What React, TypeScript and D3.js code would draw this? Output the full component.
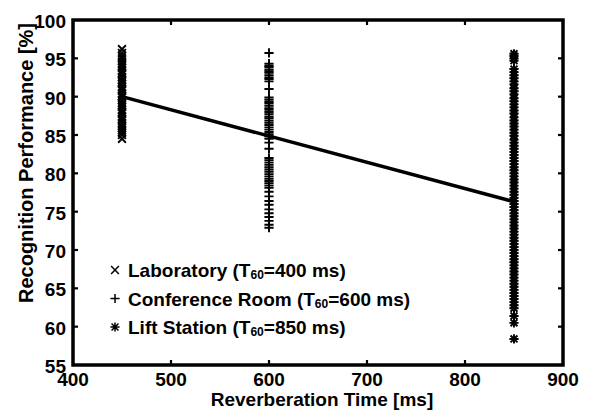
import React from "react";
import * as d3 from "d3";

// Reverberation time (ms) at which each room was measured
const labTime = 450;
const confTime = 600;
const liftTime = 850;

// Recognition performance (%) per test run
const labScores = [
  96.2, 95.7, 95.3, 95.0, 94.6, 94.3, 94.0, 93.8, 93.4, 93.1, 92.9, 92.5,
  92.2, 91.9, 91.7, 91.3, 91.0, 90.8, 90.4, 90.1, 89.9, 89.5, 89.2, 88.9,
  88.7, 88.3, 88.0, 87.8, 87.4, 87.1, 86.9, 86.5, 86.2, 85.9, 85.6, 85.3,
  85.0, 84.5,
];
const confScores = [
  95.7, 94.3, 94.0, 93.8, 93.5, 93.3, 93.1, 92.8, 92.5, 92.3, 92.0, 91.0,
  89.9, 89.6, 89.3, 89.1, 88.8, 88.5, 88.3, 88.0, 87.7, 87.4, 87.2, 86.9,
  86.6, 86.3, 86.0, 85.7, 85.4, 85.1, 84.8, 84.5, 84.0, 83.2, 82.0, 81.7,
  81.4, 81.1, 80.8, 80.5, 80.2, 79.9, 79.6, 79.3, 79.0, 78.7, 78.4, 78.1,
  77.6, 77.0, 76.4, 75.9, 75.3, 74.8, 74.3, 73.8, 73.3, 72.9,
];
const liftScores = [
  95.6, 95.3, 95.0, 94.7, 93.6, 93.2, 92.8, 92.4, 92.0, 91.6, 91.1, 90.7,
  90.3, 89.8, 89.4, 89.0, 88.6, 88.2, 87.8, 87.3, 86.9, 86.5, 86.1, 85.7,
  85.3, 84.9, 84.4, 84.0, 83.6, 83.2, 82.8, 82.4, 82.0, 81.6, 81.2, 80.8,
  80.4, 80.0, 79.6, 79.2, 78.8, 78.4, 78.0, 77.6, 77.2, 76.8, 76.4, 76.0,
  75.6, 75.2, 74.8, 74.4, 74.0, 73.6, 73.2, 72.8, 72.4, 72.0, 71.6, 71.2,
  70.8, 70.4, 70.0, 69.6, 69.2, 68.8, 68.4, 68.0, 67.6, 67.2, 66.8, 66.4,
  66.0, 65.6, 65.2, 64.8, 64.4, 64.0, 63.6, 63.2, 62.8, 62.4, 61.4, 60.5,
  58.4,
];

// Linear regression over all runs
const trendTimes = [450, 850];
const trendScores = [90.0, 76.3];

const xTicks = [400, 500, 600, 700, 800, 900];
const yTicks = [55, 60, 65, 70, 75, 80, 85, 90, 95, 100];

const legendLabels = [
  { marker: "x", name: "Laboratory", t: "400" },
  { marker: "+", name: "Conference Room", t: "600" },
  { marker: "*", name: "Lift Station", t: "850" },
];

const W = 605;
const H = 411;
const left = 73;
const right = 563;
const top = 20;
const bottom = 365;

const font = "'Liberation Sans', Arial, Helvetica, sans-serif";

function Marker({ kind, cx, cy, r = 4.6, sw = 1.9 }: { kind: string; cx: number; cy: number; r?: number; sw?: number }) {
  const d = kind === "x" ? r * 0.85 : r * 0.75;
  const cross = `M${cx - d},${cy - d}L${cx + d},${cy + d}M${cx - d},${cy + d}L${cx + d},${cy - d}`;
  const plus = `M${cx - r},${cy}L${cx + r},${cy}M${cx},${cy - r}L${cx},${cy + r}`;
  const path = kind === "x" ? cross : kind === "+" ? plus : cross + plus;
  return <path d={path} stroke="#000" strokeWidth={sw} fill="none" />;
}

export default function App() {
  const x = d3.scaleLinear().domain([400, 900]).range([left, right]);
  const y = d3.scaleLinear().domain([55, 100]).range([bottom, top]);

  const line = d3
    .line<number>()
    .x((_, i) => x(trendTimes[i]))
    .y((d) => y(d));

  const series = [
    { kind: "x", t: labTime, vals: labScores },
    { kind: "+", t: confTime, vals: confScores },
    { kind: "*", t: liftTime, vals: liftScores },
  ];

  return (
    <svg
      width={W}
      height={H}
      style={{ position: "absolute", left: 0, top: 0, background: "#fff" }}
      fontFamily={font}
      fontWeight="bold"
    >
      <rect x={0} y={0} width={W} height={H} fill="#fff" />

      {/* data columns */}
      {series.map((s) =>
        s.vals.map((v, i) => (
          <Marker key={s.kind + i} kind={s.kind} cx={x(s.t)} cy={y(v)} />
        ))
      )}

      {/* regression line */}
      <path d={line(trendScores) ?? ""} stroke="#000" strokeWidth={3.5} fill="none" />

      {/* ticks */}
      {xTicks.slice(1, -1).map((t) => (
        <g key={"xt" + t}>
          <line x1={x(t)} x2={x(t)} y1={bottom} y2={bottom - 5} stroke="#000" strokeWidth={2.2} />
          <line x1={x(t)} x2={x(t)} y1={top} y2={top + 5} stroke="#000" strokeWidth={2.2} />
        </g>
      ))}
      {yTicks.slice(1, -1).map((t) => (
        <g key={"yt" + t}>
          <line x1={left} x2={left + 5} y1={y(t)} y2={y(t)} stroke="#000" strokeWidth={2.2} />
          <line x1={right} x2={right - 5} y1={y(t)} y2={y(t)} stroke="#000" strokeWidth={2.2} />
        </g>
      ))}

      {/* frame */}
      <rect
        x={left}
        y={top}
        width={right - left}
        height={bottom - top}
        fill="none"
        stroke="#000"
        strokeWidth={3.5}
      />

      {/* tick labels */}
      {xTicks.map((t) => (
        <text key={"xl" + t} x={x(t)} y={bottom + 21} fontSize={19} textAnchor="middle">
          {t}
        </text>
      ))}
      {yTicks.map((t) => (
        <text key={"yl" + t} x={left - 7} y={y(t) + 8} fontSize={19} textAnchor="end">
          {t}
        </text>
      ))}

      {/* axis titles */}
      <text x={322} y={406} fontSize={19} textAnchor="middle">
        Reverberation Time [ms]
      </text>
      <text
        transform={`translate(33,163) rotate(-90)`}
        fontSize={20}
        textAnchor="middle"
      >
        Recognition Performance [%]
      </text>

      {/* legend */}
      {legendLabels.map((l, i) => {
        const cy = 270 + i * 28.5;
        return (
          <g key={"lg" + i}>
            <Marker kind={l.marker} cx={115} cy={cy} r={4.6} sw={1.5} />
            <text x={128} y={cy + 7} fontSize={19}>
              {l.name} (T
              <tspan fontSize={12} dy={2}>60</tspan>
              <tspan dy={-2}>={l.t} ms)</tspan>
            </text>
          </g>
        );
      })}
    </svg>
  );
}
